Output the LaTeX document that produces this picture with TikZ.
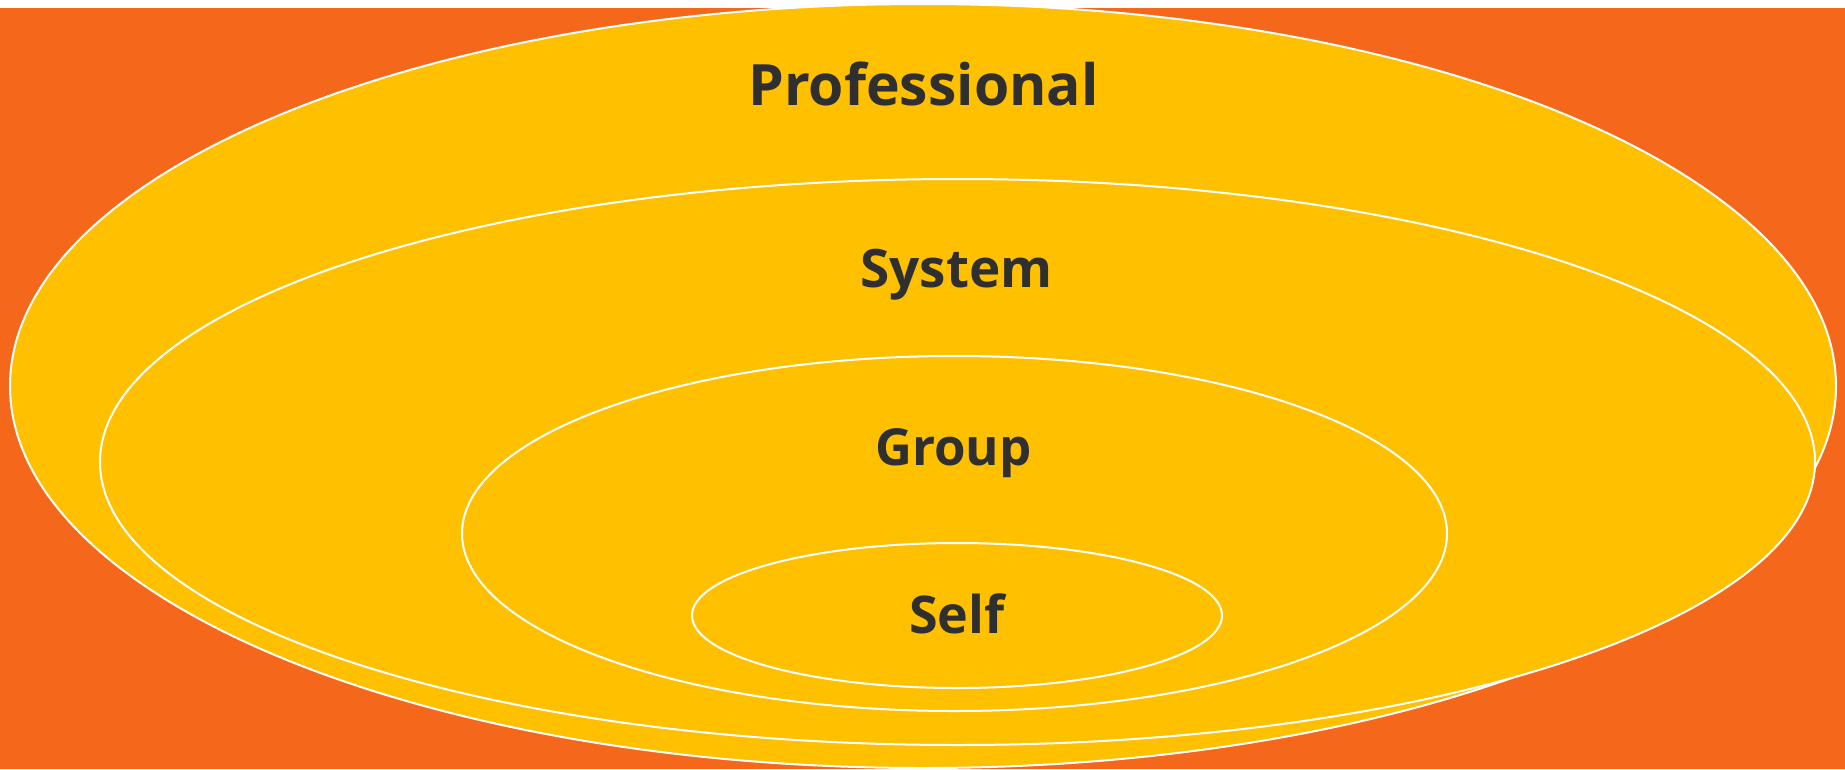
\documentclass[tikz,border=0pt]{standalone}
\usepackage{fontspec}
\setmainfont{Open Sans}
\definecolor{bgorange}{HTML}{F5671A}
\definecolor{fillyellow}{HTML}{FFC000}
\definecolor{txtgray}{HTML}{2F2F2F}
\begin{document}
\begin{tikzpicture}[x=1pt,y=-1pt,
  ring/.style={fill=fillyellow,draw=white,line width=2pt},
  lbl/.style={anchor=base,text=txtgray,font=\bfseries,inner sep=0pt}]
\useasboundingbox (0,0) rectangle (1845,769);
\fill[white] (0,0) rectangle (1845,769);
\fill[bgorange] (0,7.5) rectangle (1845,769);
\draw[ring] (923,386) ellipse [x radius=913,y radius=382];
\draw[ring] (957.5,462) ellipse [x radius=857.5,y radius=283];
\draw[ring] (954.5,533.5) ellipse [x radius=492.5,y radius=177.5];
\draw[ring] (957,615.5) ellipse [x radius=265,y radius=72.5];
\node[lbl,font=\fontsize{57}{68}\selectfont\bfseries] (prof) at (923.5,105.5) {Professional};
\node[lbl,font=\fontsize{53}{63}\selectfont\bfseries] (sys) at (956.5,287) {System};
\node[lbl,font=\fontsize{51}{61}\selectfont\bfseries] (grp) at (953.5,465) {Group};
\node[lbl,font=\fontsize{52}{62}\selectfont\bfseries] (self) at (957,633) {Self};
\end{tikzpicture}
\end{document}
